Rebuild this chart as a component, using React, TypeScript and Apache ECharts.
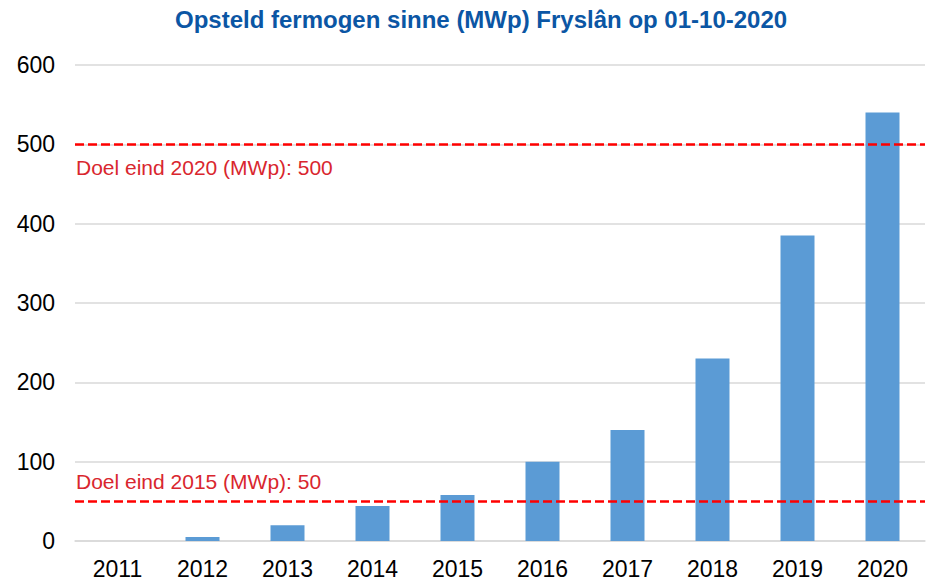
import React, { useEffect, useRef } from "react";
import * as echarts from "echarts";

const categories = ["2011", "2012", "2013", "2014", "2015", "2016", "2017", "2018", "2019", "2020"];
const values = [0, 5, 20, 44, 58, 100, 140, 230, 385, 540];
const goal2020 = 500;
const goal2015 = 50;
const goal2020Label = "Doel eind 2020 (MWp): 500";
const goal2015Label = "Doel eind 2015 (MWp): 50";
const titleText = "Opsteld fermogen sinne (MWp) Fryslân op 01-10-2020";

export default function App() {
  const ref = useRef<HTMLDivElement>(null);
  useEffect(() => {
    document.body.style.margin = "0";
    const chart = echarts.init(ref.current!, null, { renderer: "svg" });
    const font = "'Liberation Sans', Arial, sans-serif";
    chart.setOption({
      animation: false,
      title: {
        text: titleText,
        left: 170,
        top: 2,
        textStyle: { color: "#0b56a4", fontSize: 24, fontWeight: "bold", fontFamily: font },
      },
      grid: { left: 75, right: 1, top: 65, bottom: 38 },
      xAxis: {
        type: "category",
        data: categories,
        axisTick: { show: false },
        axisLine: { lineStyle: { color: "#d9d9d9", width: 1.5 } },
        axisLabel: { color: "#000", fontSize: 23, fontFamily: font, margin: 16 },
      },
      yAxis: {
        type: "value",
        min: 0,
        max: 600,
        interval: 100,
        axisLabel: { color: "#000", fontSize: 23, fontFamily: font, margin: 20 },
        splitLine: { lineStyle: { color: "#d9d9d9", width: 1.5 } },
      },
      series: [
        {
          type: "bar",
          data: values,
          barWidth: 34,
          itemStyle: { color: "#5b9bd5" },
          markLine: {
            silent: true,
            symbol: "none",
            z: 10,
            lineStyle: { color: "#ff0000", type: [9, 4], width: 2.5 },
            data: [
              {
                yAxis: goal2020,
                label: {
                  show: true,
                  formatter: goal2020Label,
                  position: "insideStartBottom",
                  distance: [1, 13],
                  color: "#d9262e",
                  fontSize: 21,
                  fontFamily: font,
                },
              },
              {
                yAxis: goal2015,
                label: {
                  show: true,
                  formatter: goal2015Label,
                  position: "insideStartTop",
                  distance: [1, 9],
                  color: "#d9262e",
                  fontSize: 21,
                  fontFamily: font,
                },
              },
            ],
          },
        },
      ],
    });
    return () => chart.dispose();
  }, []);
  return <div ref={ref} style={{ width: 926, height: 580 }} />;
}
